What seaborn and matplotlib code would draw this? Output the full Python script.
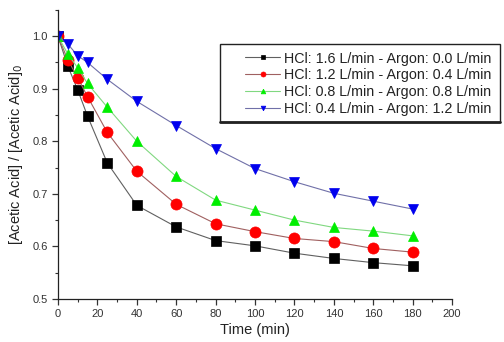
import matplotlib
matplotlib.use("Agg")
import matplotlib.pyplot as plt
import seaborn as sns
import numpy as np
from matplotlib.ticker import MultipleLocator
from matplotlib.patches import Rectangle
from matplotlib.lines import Line2D

sns.set_style("ticks")
plt.rcParams['font.family'] = ['Liberation Sans', 'DejaVu Sans']

time_min = [0, 5, 10, 15, 25, 40, 60, 80, 100, 120, 140, 160, 180]
hcl16_ar00 = [1.0, 0.943, 0.898, 0.848, 0.759, 0.678, 0.637, 0.611, 0.601, 0.587, 0.577, 0.569, 0.563]
hcl12_ar04 = [1.0, 0.955, 0.921, 0.885, 0.817, 0.743, 0.680, 0.643, 0.628, 0.615, 0.609, 0.596, 0.589]
hcl08_ar08 = [1.0, 0.966, 0.940, 0.910, 0.865, 0.800, 0.733, 0.688, 0.669, 0.650, 0.636, 0.629, 0.620]
hcl04_ar12 = [1.0, 0.985, 0.963, 0.950, 0.918, 0.876, 0.830, 0.786, 0.748, 0.723, 0.701, 0.686, 0.671]
labels = ["HCl: 1.6 L/min - Argon: 0.0 L/min",
          "HCl: 1.2 L/min - Argon: 0.4 L/min",
          "HCl: 0.8 L/min - Argon: 0.8 L/min",
          "HCl: 0.4 L/min - Argon: 1.2 L/min"]

series = [hcl16_ar00, hcl12_ar04, hcl08_ar08, hcl04_ar12]
marker_colors = ["#000000", "#ff0000", "#00ee00", "#0000ee"]
line_colors = ["#606060", "#a06060", "#80d880", "#7070a8"]
markers = ["s", "o", "^", "v"]

fig = plt.figure(figsize=(5.04, 3.42), dpi=100)
ax = fig.add_axes([0.115, 0.126, 0.782, 0.845])

for ys, lab, mc, lc, mk in zip(series, labels, marker_colors, line_colors, markers):
    sns.lineplot(x=time_min, y=ys, ax=ax, color=lc, linewidth=0.8,
                 marker=mk, markersize=7.5 if mk != "o" else 8,
                 markerfacecolor=mc, markeredgecolor=mc, markeredgewidth=0.5,
                 label=lab)

ax.set_xlim(0, 200)
ax.set_ylim(0.5, 1.05)
ax.xaxis.set_major_locator(MultipleLocator(20))
ax.xaxis.set_minor_locator(MultipleLocator(10))
ax.yaxis.set_major_locator(MultipleLocator(0.1))
ax.yaxis.set_minor_locator(MultipleLocator(0.05))
ax.yaxis.set_major_formatter(matplotlib.ticker.FormatStrFormatter('%.1f'))
ax.tick_params(which='major', direction='out', length=4, width=0.9, labelsize=8, colors='#333333', pad=3.5)
ax.tick_params(which='minor', direction='out', length=2.5, width=0.8, colors='#333333')
for s in ['top', 'right']:
    ax.spines[s].set_visible(False)
for s in ['left', 'bottom']:
    ax.spines[s].set_linewidth(0.9)
    ax.spines[s].set_color('#222222')

ax.set_xlabel("Time (min)", fontsize=10.5, color='#222222', labelpad=3)
ax.set_ylabel("[Acetic Acid] / [Acetic Acid]$_0$", fontsize=10.5, color='#222222', labelpad=5)

# legend frame (drawn in figure pixels, inside the axes drawing order)
W, H = 504, 342
frame = Rectangle((220 / W, 1 - 122 / H), 280 / W, 78 / H, transform=fig.transFigure,
                  facecolor='white', edgecolor='#222222', linewidth=1.0, zorder=6, clip_on=False)
ax.add_artist(frame)
ax.add_artist(Line2D([220 / W, 500 / W], [1 - 122 / H, 1 - 122 / H], transform=fig.transFigure,
                     color='#222222', linewidth=2.0, zorder=6.5, clip_on=False))

leg = ax.legend(loc='upper left', bbox_to_anchor=(245 / W, 1 - 51.5 / H),
                bbox_transform=fig.transFigure, frameon=False,
                fontsize=10.3, markerscale=0.45, handlelength=2.45, handletextpad=0.3,
                labelspacing=0.2, borderpad=0, borderaxespad=0)
leg.set_zorder(8)
for t in leg.get_texts():
    t.set_color('#222222')

fig.savefig("out.png", dpi=100)
